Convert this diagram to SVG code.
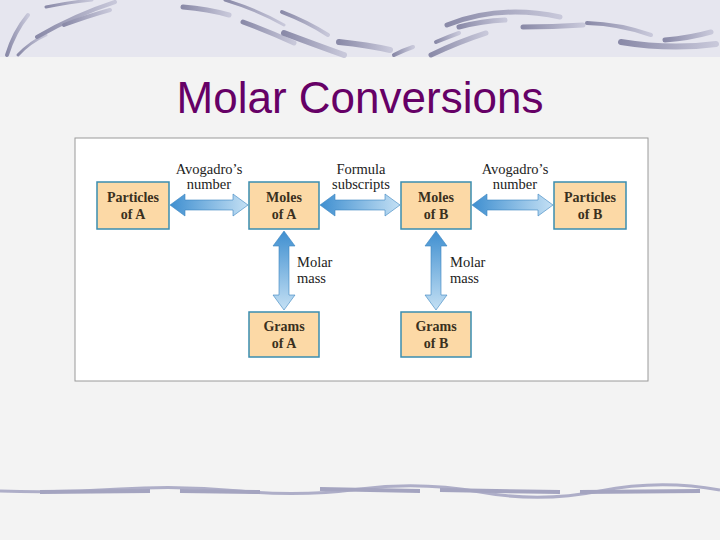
<svg xmlns="http://www.w3.org/2000/svg" width="720" height="540" viewBox="0 0 720 540">
<defs>
<linearGradient id="gh" x1="0" y1="0" x2="1" y2="0">
<stop offset="0" stop-color="#3f8fd0"/><stop offset="1" stop-color="#c4e0f4"/>
</linearGradient>
<linearGradient id="gv" x1="0" y1="0" x2="0" y2="1">
<stop offset="0" stop-color="#3f8fd0"/><stop offset="1" stop-color="#c4e0f4"/>
</linearGradient>
<linearGradient id="sw" x1="0" y1="0" x2="1" y2="0">
<stop offset="0" stop-color="#8a8aa8"/><stop offset="1" stop-color="#c8c8da"/>
</linearGradient>
<style>
.box{fill:#fcd9a6;stroke:#3a8db0;stroke-width:1.5}
.bt{font-family:"Liberation Serif",serif;font-weight:bold;font-size:14px;fill:#3a3020;text-anchor:middle}
.lt{font-family:"Liberation Serif",serif;font-size:14.5px;fill:#222;text-anchor:middle}
.ll{font-family:"Liberation Serif",serif;font-size:14.5px;fill:#222}
.swo{fill:none;stroke:url(#sw);stroke-linecap:round}
</style>
</defs>
<rect width="720" height="540" fill="#f3f3f3"/>
<rect width="720" height="57" fill="#e6e6ef"/>
<g class="swo">
<path d="M7 55 Q14 32 28 15" stroke-width="4"/>
<path d="M18 55 Q30 42 46 35" stroke-width="3"/>
<path d="M37 37 Q75 15 115 2" stroke-width="4"/>
<path d="M64 25 Q88 16 110 10" stroke-width="4"/>
<path d="M46 7 Q70 2 92 0" stroke-width="3"/>
<path d="M183 7 Q208 9 229 15" stroke-width="5"/>
<path d="M225 0 Q258 10 284 25" stroke-width="3"/>
<path d="M243 22 Q270 32 294 43" stroke-width="5"/>
<path d="M282 12 Q308 22 328 35" stroke-width="4"/>
<path d="M284 33 Q316 45 344 55" stroke-width="6"/>
<path d="M339 42 Q368 45 390 50" stroke-width="6"/>
<path d="M394 55 Q404 50 413 47" stroke-width="4"/>
<path d="M431 55 Q458 42 486 33" stroke-width="5"/>
<path d="M436 42 Q448 37 459 33" stroke-width="4"/>
<path d="M447 25 Q500 4 560 17" stroke-width="5"/>
<path d="M459 27 Q482 21 505 20" stroke-width="5"/>
<path d="M523 27 Q553 27 583 25" stroke-width="5"/>
<path d="M587 23 Q620 24 651 35" stroke-width="4"/>
<path d="M621 42 Q670 50 716 44" stroke-width="6"/>
<path d="M665 40 Q690 38 711 32" stroke-width="5"/>
</g>
<path d="M0 491 Q60 493 120 489 T240 491 T360 489 T480 492 T600 491 T720 490" fill="none" stroke="#aeaec8" stroke-width="3"/>
<path d="M40 492 L150 491 M180 491 L260 492 M320 489 L420 491 M440 490 L560 492 M580 492 L700 491" fill="none" stroke="#a4a4c0" stroke-width="4"/>

<text x="360" y="113" font-family="Liberation Sans,Arial,sans-serif" font-size="44" fill="#660066" text-anchor="middle">Molar Conversions</text>

<rect x="75" y="138" width="573" height="243" fill="#ffffff" stroke="#9a9a9a" stroke-width="1"/>

<g id="connectors">
<path d="M170 205 L185 194 L185 200 L233 200 L233 194 L248 205 L233 216 L233 210 L185 210 L185 216 Z" fill="url(#gh)" stroke="#3a85c0" stroke-width="0.6"/>
<path d="M320 205 L335 194 L335 200 L385 200 L385 194 L400 205 L385 216 L385 210 L335 210 L335 216 Z" fill="url(#gh)" stroke="#3a85c0" stroke-width="0.6"/>
<path d="M472 205 L487 194 L487 200 L538 200 L538 194 L553 205 L538 216 L538 210 L487 210 L487 216 Z" fill="url(#gh)" stroke="#3a85c0" stroke-width="0.6"/>
<path d="M284 231 L295 246 L289 246 L289 295 L295 295 L284 310 L273 295 L279 295 L279 246 L273 246 Z" fill="url(#gv)" stroke="#3a85c0" stroke-width="0.6"/>
<path d="M436 231 L447 246 L441 246 L441 295 L447 295 L436 310 L425 295 L431 295 L431 246 L425 246 Z" fill="url(#gv)" stroke="#3a85c0" stroke-width="0.6"/>
<text class="lt" x="209" y="174">Avogadro’s</text>
<text class="lt" x="209" y="189">number</text>
<text class="lt" x="361" y="174">Formula</text>
<text class="lt" x="361" y="189">subscripts</text>
<text class="lt" x="515" y="174">Avogadro’s</text>
<text class="lt" x="515" y="189">number</text>
<text class="ll" x="297" y="267">Molar</text>
<text class="ll" x="297" y="283">mass</text>
<text class="ll" x="450" y="267">Molar</text>
<text class="ll" x="450" y="283">mass</text>
</g>

<g id="particlesA"><rect class="box" x="97" y="182" width="72" height="47"/><text class="bt" x="133" y="202">Particles</text><text class="bt" x="133" y="219">of A</text></g>
<g id="molesA"><rect class="box" x="249" y="182" width="70" height="47"/><text class="bt" x="284" y="202">Moles</text><text class="bt" x="284" y="219">of A</text></g>
<g id="molesB"><rect class="box" x="401" y="182" width="70" height="47"/><text class="bt" x="436" y="202">Moles</text><text class="bt" x="436" y="219">of B</text></g>
<g id="particlesB"><rect class="box" x="554" y="182" width="72" height="47"/><text class="bt" x="590" y="202">Particles</text><text class="bt" x="590" y="219">of B</text></g>
<g id="gramsA"><rect class="box" x="249" y="312" width="70" height="45"/><text class="bt" x="284" y="331">Grams</text><text class="bt" x="284" y="348">of A</text></g>
<g id="gramsB"><rect class="box" x="401" y="312" width="70" height="45"/><text class="bt" x="436" y="331">Grams</text><text class="bt" x="436" y="348">of B</text></g>
</svg>
